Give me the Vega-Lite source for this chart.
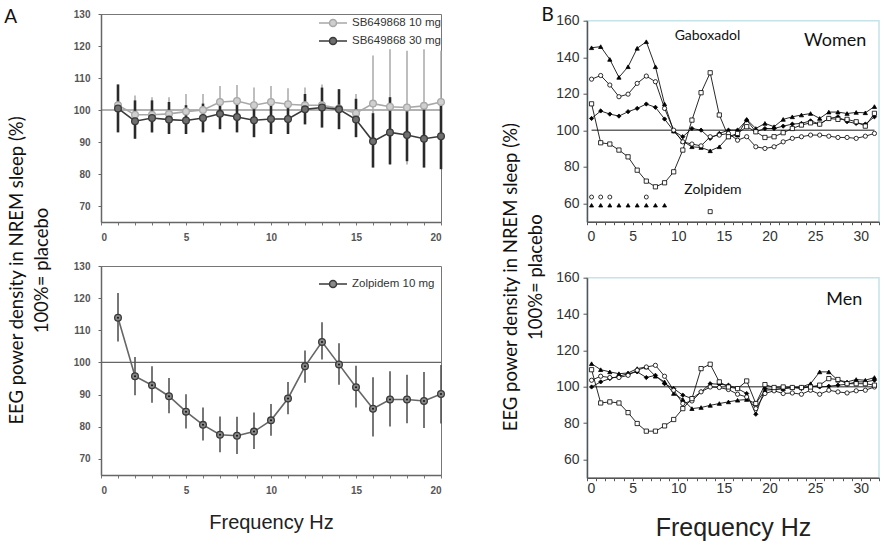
{
"$schema": "https://vega.github.io/schema/vega-lite/v6.json",
"padding": {"left": 4, "top": 6, "right": 0, "bottom": 0},
"background": "white",
"config": {"view": {"stroke": null}, "axis": {"grid": false}, "title": {"font": "Lato", "fontWeight": "normal", "color": "#111"}},
"datasets": {
"sb": [
{"f":1,"dose":"SB649868 10 mg","m":101.5,"lo":95.5,"hi":107.5},{"f":2,"dose":"SB649868 10 mg","m":98.5,"lo":92.5,"hi":104.5},{"f":3,"dose":"SB649868 10 mg","m":98.5,"lo":93,"hi":104},{"f":4,"dose":"SB649868 10 mg","m":98.8,"lo":93.6,"hi":104},{"f":5,"dose":"SB649868 10 mg","m":99.5,"lo":94,"hi":105},{"f":6,"dose":"SB649868 10 mg","m":100,"lo":95,"hi":105},{"f":7,"dose":"SB649868 10 mg","m":102.5,"lo":97.5,"hi":107.5},{"f":8,"dose":"SB649868 10 mg","m":102.8,"lo":97.8,"hi":107.8},{"f":9,"dose":"SB649868 10 mg","m":101.5,"lo":96,"hi":107},{"f":10,"dose":"SB649868 10 mg","m":102.5,"lo":97.5,"hi":107.5},{"f":11,"dose":"SB649868 10 mg","m":101.8,"lo":96.8,"hi":106.8},{"f":12,"dose":"SB649868 10 mg","m":101.5,"lo":96,"hi":107},{"f":13,"dose":"SB649868 10 mg","m":101.5,"lo":95,"hi":108},{"f":14,"dose":"SB649868 10 mg","m":100.5,"lo":94.5,"hi":106.5},{"f":15,"dose":"SB649868 10 mg","m":99,"lo":93,"hi":105},{"f":16,"dose":"SB649868 10 mg","m":102,"lo":87,"hi":117},{"f":17,"dose":"SB649868 10 mg","m":101,"lo":83,"hi":119},{"f":18,"dose":"SB649868 10 mg","m":100.8,"lo":83,"hi":118.5},{"f":19,"dose":"SB649868 10 mg","m":101.3,"lo":83.6,"hi":119},{"f":20,"dose":"SB649868 10 mg","m":102.5,"lo":86.5,"hi":118.5},
{"f":1,"dose":"SB649868 30 mg","m":100.5,"lo":93,"hi":108},{"f":2,"dose":"SB649868 30 mg","m":96.5,"lo":91,"hi":103},{"f":3,"dose":"SB649868 30 mg","m":97.5,"lo":93,"hi":103},{"f":4,"dose":"SB649868 30 mg","m":97,"lo":92.5,"hi":102.5},{"f":5,"dose":"SB649868 30 mg","m":96.7,"lo":92.5,"hi":101.5},{"f":6,"dose":"SB649868 30 mg","m":97.5,"lo":93,"hi":102},{"f":7,"dose":"SB649868 30 mg","m":98.8,"lo":94,"hi":103.5},{"f":8,"dose":"SB649868 30 mg","m":97.8,"lo":93,"hi":102.5},{"f":9,"dose":"SB649868 30 mg","m":96.8,"lo":91.5,"hi":102},{"f":10,"dose":"SB649868 30 mg","m":97.2,"lo":92.5,"hi":102},{"f":11,"dose":"SB649868 30 mg","m":97.2,"lo":92.5,"hi":102},{"f":12,"dose":"SB649868 30 mg","m":100.2,"lo":95.5,"hi":105},{"f":13,"dose":"SB649868 30 mg","m":100.8,"lo":94.5,"hi":107},{"f":14,"dose":"SB649868 30 mg","m":100.2,"lo":94,"hi":106.5},{"f":15,"dose":"SB649868 30 mg","m":97,"lo":91.5,"hi":103.5},{"f":16,"dose":"SB649868 30 mg","m":90.2,"lo":82,"hi":99},{"f":17,"dose":"SB649868 30 mg","m":93,"lo":83,"hi":104},{"f":18,"dose":"SB649868 30 mg","m":92.2,"lo":84,"hi":101},{"f":19,"dose":"SB649868 30 mg","m":91,"lo":82,"hi":100.5},{"f":20,"dose":"SB649868 30 mg","m":91.8,"lo":81.5,"hi":102.5}
],
"zol": [
{"f":1,"drug":"Zolpidem 10 mg","m":113.9,"lo":106.5,"hi":121.6},{"f":2,"drug":"Zolpidem 10 mg","m":95.7,"lo":89.8,"hi":101.7},{"f":3,"drug":"Zolpidem 10 mg","m":92.9,"lo":87.5,"hi":98.8},{"f":4,"drug":"Zolpidem 10 mg","m":89.5,"lo":84.2,"hi":95.2},{"f":5,"drug":"Zolpidem 10 mg","m":84.7,"lo":79.5,"hi":90.1},{"f":6,"drug":"Zolpidem 10 mg","m":80.6,"lo":75.7,"hi":86},{"f":7,"drug":"Zolpidem 10 mg","m":77.5,"lo":72.1,"hi":83.2},{"f":8,"drug":"Zolpidem 10 mg","m":77.2,"lo":71.5,"hi":83.1},{"f":9,"drug":"Zolpidem 10 mg","m":78.5,"lo":73.1,"hi":84.4},{"f":10,"drug":"Zolpidem 10 mg","m":82,"lo":77.2,"hi":87.1},{"f":11,"drug":"Zolpidem 10 mg","m":88.8,"lo":83.9,"hi":93.9},{"f":12,"drug":"Zolpidem 10 mg","m":98.8,"lo":93.7,"hi":103.7},{"f":13,"drug":"Zolpidem 10 mg","m":106.4,"lo":100.9,"hi":112.5},{"f":14,"drug":"Zolpidem 10 mg","m":99.4,"lo":93.1,"hi":106},{"f":15,"drug":"Zolpidem 10 mg","m":92.3,"lo":86,"hi":99},{"f":16,"drug":"Zolpidem 10 mg","m":85.6,"lo":77,"hi":95.4},{"f":17,"drug":"Zolpidem 10 mg","m":88.5,"lo":80.1,"hi":97.3},{"f":18,"drug":"Zolpidem 10 mg","m":88.5,"lo":81.1,"hi":96.2},{"f":19,"drug":"Zolpidem 10 mg","m":88,"lo":79.6,"hi":97},{"f":20,"drug":"Zolpidem 10 mg","m":90.2,"lo":81,"hi":99.2}
],
"women": [
{"f":0.5,"s":"T","v":145.2},{"f":1.5,"s":"T","v":145.8},{"f":2.5,"s":"T","v":138.8},{"f":3.5,"s":"T","v":129},{"f":4.5,"s":"T","v":134.8},{"f":5.5,"s":"T","v":144.9},{"f":6.5,"s":"T","v":148.5},{"f":7.5,"s":"T","v":134.8},{"f":8.5,"s":"T","v":114.4},{"f":9.5,"s":"T","v":99.6},{"f":10.5,"s":"T","v":94},{"f":11.5,"s":"T","v":91},{"f":12.5,"s":"T","v":90.6},{"f":13.5,"s":"T","v":88.8},{"f":14.5,"s":"T","v":91},{"f":15.5,"s":"T","v":96.5},{"f":16.5,"s":"T","v":97.4},{"f":17.5,"s":"T","v":106},{"f":18.5,"s":"T","v":101},{"f":19.5,"s":"T","v":103.8},{"f":20.5,"s":"T","v":102},{"f":21.5,"s":"T","v":106},{"f":22.5,"s":"T","v":107.4},{"f":23.5,"s":"T","v":108.4},{"f":24.5,"s":"T","v":109.2},{"f":25.5,"s":"T","v":106.5},{"f":26.5,"s":"T","v":110},{"f":27.5,"s":"T","v":110},{"f":28.5,"s":"T","v":109.2},{"f":29.5,"s":"T","v":109.8},{"f":30.5,"s":"T","v":109.6},{"f":31.5,"s":"T","v":113},
{"f":0.5,"s":"D","v":106.5},{"f":1.5,"s":"D","v":110.6},{"f":2.5,"s":"D","v":108.9},{"f":3.5,"s":"D","v":107.8},{"f":4.5,"s":"D","v":110.2},{"f":5.5,"s":"D","v":112},{"f":6.5,"s":"D","v":114.4},{"f":7.5,"s":"D","v":112.6},{"f":8.5,"s":"D","v":106.2},{"f":9.5,"s":"D","v":99.6},{"f":10.5,"s":"D","v":96.5},{"f":11.5,"s":"D","v":101},{"f":12.5,"s":"D","v":100.1},{"f":13.5,"s":"D","v":95.6},{"f":14.5,"s":"D","v":98.3},{"f":15.5,"s":"D","v":100.1},{"f":16.5,"s":"D","v":100.1},{"f":17.5,"s":"D","v":105.6},{"f":18.5,"s":"D","v":99.2},{"f":19.5,"s":"D","v":101},{"f":20.5,"s":"D","v":101},{"f":21.5,"s":"D","v":102.3},{"f":22.5,"s":"D","v":103.4},{"f":23.5,"s":"D","v":103.8},{"f":24.5,"s":"D","v":105.2},{"f":25.5,"s":"D","v":103.4},{"f":26.5,"s":"D","v":106.5},{"f":27.5,"s":"D","v":107.4},{"f":28.5,"s":"D","v":104.7},{"f":29.5,"s":"D","v":103.8},{"f":30.5,"s":"D","v":103.4},{"f":31.5,"s":"D","v":107.4},
{"f":0.5,"s":"C","v":128},{"f":1.5,"s":"C","v":130},{"f":2.5,"s":"C","v":124.8},{"f":3.5,"s":"C","v":118.4},{"f":4.5,"s":"C","v":119.8},{"f":5.5,"s":"C","v":125.7},{"f":6.5,"s":"C","v":129.7},{"f":7.5,"s":"C","v":126.6},{"f":8.5,"s":"C","v":112},{"f":9.5,"s":"C","v":100.1},{"f":10.5,"s":"C","v":93.7},{"f":11.5,"s":"C","v":92.5},{"f":12.5,"s":"C","v":91.5},{"f":13.5,"s":"C","v":96.5},{"f":14.5,"s":"C","v":97.4},{"f":15.5,"s":"C","v":98.3},{"f":16.5,"s":"C","v":94.6},{"f":17.5,"s":"C","v":96.5},{"f":18.5,"s":"C","v":91},{"f":19.5,"s":"C","v":90.1},{"f":20.5,"s":"C","v":91},{"f":21.5,"s":"C","v":93.7},{"f":22.5,"s":"C","v":95.6},{"f":23.5,"s":"C","v":96.5},{"f":24.5,"s":"C","v":97.4},{"f":25.5,"s":"C","v":97.4},{"f":26.5,"s":"C","v":96.8},{"f":27.5,"s":"C","v":96.1},{"f":28.5,"s":"C","v":96.1},{"f":29.5,"s":"C","v":95.6},{"f":30.5,"s":"C","v":96.8},{"f":31.5,"s":"C","v":98.3},
{"f":0.5,"s":"S","v":114.5},{"f":1.5,"s":"S","v":93.2},{"f":2.5,"s":"S","v":92.5},{"f":3.5,"s":"S","v":89.2},{"f":4.5,"s":"S","v":85.5},{"f":5.5,"s":"S","v":78.2},{"f":6.5,"s":"S","v":72.2},{"f":7.5,"s":"S","v":69.1},{"f":8.5,"s":"S","v":71.3},{"f":9.5,"s":"S","v":77.3},{"f":10.5,"s":"S","v":89.2},{"f":11.5,"s":"S","v":105.6},{"f":12.5,"s":"S","v":120.6},{"f":13.5,"s":"S","v":131.5},{"f":14.5,"s":"S","v":108.4},{"f":15.5,"s":"S","v":96.5},{"f":16.5,"s":"S","v":98.3},{"f":17.5,"s":"S","v":102},{"f":18.5,"s":"S","v":99.2},{"f":19.5,"s":"S","v":96.1},{"f":20.5,"s":"S","v":96.5},{"f":21.5,"s":"S","v":98.7},{"f":22.5,"s":"S","v":101},{"f":23.5,"s":"S","v":102.9},{"f":24.5,"s":"S","v":104.1},{"f":25.5,"s":"S","v":103.4},{"f":26.5,"s":"S","v":106.5},{"f":27.5,"s":"S","v":106},{"f":28.5,"s":"S","v":106},{"f":29.5,"s":"S","v":104.7},{"f":30.5,"s":"S","v":102.3},{"f":31.5,"s":"S","v":109.3}
],
"sigw": [
{"f":0.5,"s":"C","v":63.5},{"f":1.5,"s":"C","v":63.5},{"f":2.5,"s":"C","v":63.5},{"f":6.5,"s":"C","v":63.5},
{"f":0.5,"s":"T","v":59},{"f":1.5,"s":"T","v":59},{"f":2.5,"s":"T","v":59},{"f":3.5,"s":"T","v":59},{"f":4.5,"s":"T","v":59},{"f":5.5,"s":"T","v":59},{"f":6.5,"s":"T","v":59},{"f":7.5,"s":"T","v":59},{"f":8.5,"s":"T","v":59},
{"f":13.5,"s":"S","v":55.5}
],
"men": [
{"f":0.5,"s":"T","v":112.7},{"f":1.5,"s":"T","v":109.4},{"f":2.5,"s":"T","v":108.2},{"f":3.5,"s":"T","v":107.2},{"f":4.5,"s":"T","v":107.6},{"f":5.5,"s":"T","v":110},{"f":6.5,"s":"T","v":110.9},{"f":7.5,"s":"T","v":105.8},{"f":8.5,"s":"T","v":102.7},{"f":9.5,"s":"T","v":96.3},{"f":10.5,"s":"T","v":93},{"f":11.5,"s":"T","v":88},{"f":12.5,"s":"T","v":88.6},{"f":13.5,"s":"T","v":89.8},{"f":14.5,"s":"T","v":90.8},{"f":15.5,"s":"T","v":91.7},{"f":16.5,"s":"T","v":92.6},{"f":17.5,"s":"T","v":93},{"f":18.5,"s":"T","v":90.8},{"f":19.5,"s":"T","v":98.1},{"f":20.5,"s":"T","v":98.5},{"f":21.5,"s":"T","v":99},{"f":22.5,"s":"T","v":99.6},{"f":23.5,"s":"T","v":99.9},{"f":24.5,"s":"T","v":101.7},{"f":25.5,"s":"T","v":108.2},{"f":26.5,"s":"T","v":108.2},{"f":27.5,"s":"T","v":103.6},{"f":28.5,"s":"T","v":102.7},{"f":29.5,"s":"T","v":104},{"f":30.5,"s":"T","v":103.6},{"f":31.5,"s":"T","v":105.1},
{"f":0.5,"s":"D","v":99.9},{"f":1.5,"s":"D","v":102.7},{"f":2.5,"s":"D","v":104.5},{"f":3.5,"s":"D","v":105.8},{"f":4.5,"s":"D","v":107.2},{"f":5.5,"s":"D","v":108.2},{"f":6.5,"s":"D","v":105.1},{"f":7.5,"s":"D","v":106.3},{"f":8.5,"s":"D","v":101.7},{"f":9.5,"s":"D","v":99},{"f":10.5,"s":"D","v":95.4},{"f":11.5,"s":"D","v":93.5},{"f":12.5,"s":"D","v":97.2},{"f":13.5,"s":"D","v":101.7},{"f":14.5,"s":"D","v":101.4},{"f":15.5,"s":"D","v":100.9},{"f":16.5,"s":"D","v":99},{"f":17.5,"s":"D","v":96.3},{"f":18.5,"s":"D","v":84.9},{"f":19.5,"s":"D","v":99},{"f":20.5,"s":"D","v":98.5},{"f":21.5,"s":"D","v":99},{"f":22.5,"s":"D","v":99.6},{"f":23.5,"s":"D","v":99},{"f":24.5,"s":"D","v":100.3},{"f":25.5,"s":"D","v":99.9},{"f":26.5,"s":"D","v":100.3},{"f":27.5,"s":"D","v":100.9},{"f":28.5,"s":"D","v":101.4},{"f":29.5,"s":"D","v":102.7},{"f":30.5,"s":"D","v":102.7},{"f":31.5,"s":"D","v":103.6},
{"f":0.5,"s":"C","v":103.6},{"f":1.5,"s":"C","v":105.8},{"f":2.5,"s":"C","v":105.1},{"f":3.5,"s":"C","v":105.1},{"f":4.5,"s":"C","v":106.3},{"f":5.5,"s":"C","v":109.1},{"f":6.5,"s":"C","v":110.9},{"f":7.5,"s":"C","v":111.8},{"f":8.5,"s":"C","v":105.8},{"f":9.5,"s":"C","v":98.1},{"f":10.5,"s":"C","v":90.8},{"f":11.5,"s":"C","v":92.2},{"f":12.5,"s":"C","v":97.2},{"f":13.5,"s":"C","v":99.9},{"f":14.5,"s":"C","v":99.6},{"f":15.5,"s":"C","v":98.5},{"f":16.5,"s":"C","v":95.9},{"f":17.5,"s":"C","v":94.4},{"f":18.5,"s":"C","v":88},{"f":19.5,"s":"C","v":96.3},{"f":20.5,"s":"C","v":97.8},{"f":21.5,"s":"C","v":96.3},{"f":22.5,"s":"C","v":96.6},{"f":23.5,"s":"C","v":95.9},{"f":24.5,"s":"C","v":98.1},{"f":25.5,"s":"C","v":95.9},{"f":26.5,"s":"C","v":98.1},{"f":27.5,"s":"C","v":97.2},{"f":28.5,"s":"C","v":96.6},{"f":29.5,"s":"C","v":97.8},{"f":30.5,"s":"C","v":98.1},{"f":31.5,"s":"C","v":99.9},
{"f":0.5,"s":"S","v":109.4},{"f":1.5,"s":"S","v":91.1},{"f":2.5,"s":"S","v":91.7},{"f":3.5,"s":"S","v":91.1},{"f":4.5,"s":"S","v":85.8},{"f":5.5,"s":"S","v":79.8},{"f":6.5,"s":"S","v":75.6},{"f":7.5,"s":"S","v":75.6},{"f":8.5,"s":"S","v":78.5},{"f":9.5,"s":"S","v":82},{"f":10.5,"s":"S","v":88},{"f":11.5,"s":"S","v":93.5},{"f":12.5,"s":"S","v":110},{"f":13.5,"s":"S","v":112.4},{"f":14.5,"s":"S","v":102.7},{"f":15.5,"s":"S","v":99.9},{"f":16.5,"s":"S","v":99},{"f":17.5,"s":"S","v":103.2},{"f":18.5,"s":"S","v":90.8},{"f":19.5,"s":"S","v":101.2},{"f":20.5,"s":"S","v":99.6},{"f":21.5,"s":"S","v":99.9},{"f":22.5,"s":"S","v":99.6},{"f":23.5,"s":"S","v":99.6},{"f":24.5,"s":"S","v":99.9},{"f":25.5,"s":"S","v":100.9},{"f":26.5,"s":"S","v":104.5},{"f":27.5,"s":"S","v":104},{"f":28.5,"s":"S","v":101.7},{"f":29.5,"s":"S","v":101.7},{"f":30.5,"s":"S","v":101.7},{"f":31.5,"s":"S","v":100.9}
]
},
"spacing": 54,
"resolve": {"scale": {"fill": "independent", "stroke": "independent", "shape": "independent"}, "legend": {"fill": "independent", "stroke": "independent", "shape": "independent"}},
"hconcat": [
{
"title": {"text": "A", "orient": "top", "anchor": "start", "fontSize": 19, "offset": -18, "dx": -4},
"resolve": {"scale": {"fill": "independent", "stroke": "independent", "shape": "independent"}, "legend": {"fill": "independent", "stroke": "independent", "shape": "independent"}},
"vconcat": [
{
"title": {"text": ["EEG power density in NREM sleep (%)", "100%= placebo"], "orient": "left", "anchor": "middle", "fontSize": 18.5, "lineHeight": 25, "offset": 21},
"spacing": 44,
"bounds": "flush",
"resolve": {"scale": {"fill": "independent", "stroke": "independent", "shape": "independent"}, "legend": {"fill": "independent", "stroke": "independent", "shape": "independent"}},
"vconcat": [
{
"width": 340, "height": 208,
"view": {"stroke": "#777", "strokeWidth": 1},
"layer": [
{"data": {"values": [{}]}, "mark": {"type": "rule", "color": "#666", "strokeWidth": 1.2},
 "encoding": {"y": {"datum": 100, "type": "quantitative", "scale": {"domain": [65, 130], "nice": false, "zero": false},
   "axis": {"orient": "left", "values": [70, 80, 90, 100, 110, 120, 130], "title": null, "domainColor": "#666", "domainWidth": 1.5, "tickColor": "#666", "tickSize": 3, "labelFont": "Liberation Sans", "labelFontSize": 10, "labelFontWeight": "bold", "labelColor": "#555", "labelPadding": 8}}}},
{"data": {"name": "sb"}, "transform": [{"filter": {"field": "dose", "equal": "SB649868 10 mg"}}], "mark": {"type": "rule", "color": "#a8a8a8", "strokeWidth": 1.5},
 "encoding": {"x": {"field": "f", "type": "quantitative", "scale": {"domain": [0, 20], "nice": false, "zero": false},
   "axis": {"orient": "bottom", "values": [0,1,2,3,4,5,6,7,8,9,10,11,12,13,14,15,16,17,18,19,20], "labels": false, "title": null, "domainColor": "#666", "domainWidth": 1.5, "tickColor": "#777", "tickSize": 3}},
  "y": {"field": "lo", "type": "quantitative", "scale": {"domain": [65, 130], "nice": false, "zero": false}, "axis": null},
  "y2": {"field": "hi"}}},
{"data": {"name": "sb"}, "transform": [{"filter": {"field": "dose", "equal": "SB649868 30 mg"}}], "mark": {"type": "rule", "color": "#2a2a2a", "strokeWidth": 2.6},
 "encoding": {"x": {"field": "f", "type": "quantitative", "scale": {"domain": [0, 20], "nice": false, "zero": false}, "axis": null},
  "y": {"field": "lo", "type": "quantitative", "scale": {"domain": [65, 130], "nice": false, "zero": false}, "axis": null},
  "y2": {"field": "hi"}}},
{"data": {"name": "sb"}, "mark": {"type": "line", "strokeWidth": 1.6},
 "encoding": {"x": {"field": "f", "type": "quantitative", "scale": {"domain": [0, 20], "nice": false, "zero": false},
   "axis": {"orient": "bottom", "values": [0, 5, 10, 15, 20], "title": null, "domain": false, "ticks": false, "labelFont": "Liberation Sans", "labelFontSize": 10, "labelFontWeight": "bold", "labelColor": "#555", "labelPadding": 10}},
  "y": {"field": "m", "type": "quantitative", "scale": {"domain": [65, 130], "nice": false, "zero": false}, "axis": null},
  "stroke": {"field": "dose", "type": "nominal", "scale": {"domain": ["SB649868 10 mg", "SB649868 30 mg"], "range": ["#a8a8a8", "#3a3a3a"]},
   "legend": {"orient": "none", "legendX": 224, "legendY": 1, "title": null, "padding": 0, "labelFont": "Liberation Sans", "labelFontSize": 11.5, "labelColor": "#333", "symbolType": "M-2,0L-0.5,0M0.5,0L2,0M0.5,0A0.5,0.5,0,1,1,-0.5,0A0.5,0.5,0,1,1,0.5,0Z", "symbolSize": 196, "symbolStrokeWidth": 1.5, "rowPadding": 3, "labelOffset": 11}}}},
{"data": {"name": "sb"}, "mark": {"type": "point", "filled": true, "size": 45, "strokeWidth": 1.3, "opacity": 1},
 "encoding": {"x": {"field": "f", "type": "quantitative", "scale": {"domain": [0, 20], "nice": false, "zero": false}, "axis": null},
  "y": {"field": "m", "type": "quantitative", "scale": {"domain": [65, 130], "nice": false, "zero": false}, "axis": null},
  "fill": {"field": "dose", "type": "nominal", "scale": {"domain": ["SB649868 10 mg", "SB649868 30 mg"], "range": ["#cfcfcf", "#6f6f6f"]},
   "legend": {"orient": "none", "legendX": 224, "legendY": 1, "title": null, "padding": 0, "labelFont": "Liberation Sans", "labelFontSize": 11.5, "labelColor": "#333", "symbolType": "M-2,0L-0.5,0M0.5,0L2,0M0.5,0A0.5,0.5,0,1,1,-0.5,0A0.5,0.5,0,1,1,0.5,0Z", "symbolSize": 196, "symbolStrokeWidth": 1.5, "rowPadding": 3, "labelOffset": 11}},
  "stroke": {"field": "dose", "type": "nominal",
   "legend": {"orient": "none", "legendX": 224, "legendY": 1, "title": null, "padding": 0, "labelFont": "Liberation Sans", "labelFontSize": 11.5, "labelColor": "#333", "symbolType": "M-2,0L-0.5,0M0.5,0L2,0M0.5,0A0.5,0.5,0,1,1,-0.5,0A0.5,0.5,0,1,1,0.5,0Z", "symbolSize": 196, "symbolStrokeWidth": 1.5, "rowPadding": 3, "labelOffset": 11}}}}
],
"resolve": {"axis": {"x": "independent", "y": "independent"}}
},
{
"width": 340, "height": 209,
"view": {"stroke": "#777", "strokeWidth": 1},
"layer": [
{"data": {"values": [{}]}, "mark": {"type": "rule", "color": "#666", "strokeWidth": 1.2},
 "encoding": {"y": {"datum": 100, "type": "quantitative", "scale": {"domain": [65, 130], "nice": false, "zero": false},
   "axis": {"orient": "left", "values": [70, 80, 90, 100, 110, 120, 130], "title": null, "domainColor": "#666", "domainWidth": 1.5, "tickColor": "#666", "tickSize": 3, "labelFont": "Liberation Sans", "labelFontSize": 10, "labelFontWeight": "bold", "labelColor": "#555", "labelPadding": 8}}}},
{"data": {"name": "zol"}, "mark": {"type": "rule", "color": "#555", "strokeWidth": 1.6},
 "encoding": {"x": {"field": "f", "type": "quantitative", "scale": {"domain": [0, 20], "nice": false, "zero": false},
   "axis": {"orient": "bottom", "values": [0,1,2,3,4,5,6,7,8,9,10,11,12,13,14,15,16,17,18,19,20], "labels": false, "title": null, "domainColor": "#666", "domainWidth": 1.5, "tickColor": "#777", "tickSize": 3}},
  "y": {"field": "lo", "type": "quantitative", "scale": {"domain": [65, 130], "nice": false, "zero": false}, "axis": null},
  "y2": {"field": "hi"}}},
{"data": {"name": "zol"}, "mark": {"type": "line", "strokeWidth": 1.6, "color": "#666"},
 "encoding": {"x": {"field": "f", "type": "quantitative", "scale": {"domain": [0, 20], "nice": false, "zero": false},
   "axis": {"orient": "bottom", "values": [0, 5, 10, 15, 20], "title": "Frequency Hz", "titleFont": "Liberation Sans", "titleFontSize": 20, "titleFontWeight": "normal", "titleColor": "#222", "titleY": 47, "titleBaseline": "middle", "domain": false, "ticks": false, "labelFont": "Liberation Sans", "labelFontSize": 10, "labelFontWeight": "bold", "labelColor": "#555", "labelPadding": 10}},
  "y": {"field": "m", "type": "quantitative", "scale": {"domain": [65, 130], "nice": false, "zero": false}, "axis": null}}},
{"data": {"name": "zol"}, "mark": {"type": "point", "filled": true, "size": 45, "strokeWidth": 1.3, "opacity": 1},
 "encoding": {"x": {"field": "f", "type": "quantitative", "scale": {"domain": [0, 20], "nice": false, "zero": false}, "axis": null},
  "y": {"field": "m", "type": "quantitative", "scale": {"domain": [65, 130], "nice": false, "zero": false}, "axis": null},
  "fill": {"field": "drug", "type": "nominal", "scale": {"domain": ["Zolpidem 10 mg"], "range": ["#8a8a8a"]},
   "legend": {"orient": "none", "legendX": 224, "legendY": 10, "title": null, "padding": 0, "labelFont": "Liberation Sans", "labelFontSize": 11.5, "labelColor": "#333", "symbolType": "M-2,0L-0.5,0M0.5,0L2,0M0.5,0A0.5,0.5,0,1,1,-0.5,0A0.5,0.5,0,1,1,0.5,0Z", "symbolSize": 196, "symbolStrokeWidth": 1.5, "labelOffset": 11}},
  "stroke": {"field": "drug", "type": "nominal", "scale": {"domain": ["Zolpidem 10 mg"], "range": ["#3a3a3a"]},
   "legend": {"orient": "none", "legendX": 224, "legendY": 10, "title": null, "padding": 0, "labelFont": "Liberation Sans", "labelFontSize": 11.5, "labelColor": "#333", "symbolType": "M-2,0L-0.5,0M0.5,0L2,0M0.5,0A0.5,0.5,0,1,1,-0.5,0A0.5,0.5,0,1,1,0.5,0Z", "symbolSize": 196, "symbolStrokeWidth": 1.5, "labelOffset": 11}}}},
{"data": {"name": "zol"}, "mark": {"type": "point", "filled": true, "size": 4, "color": "#111", "opacity": 1},
 "encoding": {"x": {"field": "f", "type": "quantitative", "scale": {"domain": [0, 20], "nice": false, "zero": false}, "axis": null},
  "y": {"field": "m", "type": "quantitative", "scale": {"domain": [65, 130], "nice": false, "zero": false}, "axis": null}}}
],
"resolve": {"axis": {"x": "independent", "y": "independent"}}
}
]
}
]
},
{
"title": {"text": "B", "orient": "top", "anchor": "start", "fontSize": 19, "offset": -13.3, "dx": 39},
"spacing": 5.7,
"bounds": "flush",
"resolve": {"scale": {"fill": "independent", "stroke": "independent", "shape": "independent"}, "legend": {"fill": "independent", "stroke": "independent", "shape": "independent"}},
"vconcat": [
{"width": 292, "height": 1, "data": {"values": [{}]}, "mark": {"type": "point", "opacity": 0}},
{
"title": {"text": ["EEG power density in NREM sleep (%)", "100%= placebo"], "orient": "left", "anchor": "middle", "fontSize": 18.5, "lineHeight": 25, "offset": 9},
"spacing": 56,
"bounds": "flush",
"resolve": {"scale": {"fill": "independent", "stroke": "independent", "shape": "independent"}, "legend": {"fill": "independent", "stroke": "independent", "shape": "independent"}},
"vconcat": [
{
"width": 292, "height": 201,
"view": {"stroke": "#c4e4e8", "strokeWidth": 1.5},
"layer": [
{"data": {"values": [{}]}, "mark": {"type": "rule", "color": "#666", "strokeWidth": 1.5},
 "encoding": {"x": {"datum": 0.5, "type": "quantitative", "scale": {"domain": [0, 32], "nice": false, "zero": false}, "axis": null}, "x2": {"datum": 31.5},
  "y": {"datum": 100, "type": "quantitative", "scale": {"domain": [50, 160], "nice": false, "zero": false},
   "axis": {"orient": "left", "values": [60, 80, 100, 120, 140, 160], "title": null, "domainColor": "#555", "domainWidth": 1.5, "tickColor": "#555", "tickSize": 4, "labelFont": "Liberation Sans", "labelFontSize": 14, "labelColor": "#333", "labelPadding": 4}}}},
{"data": {"name": "women"}, "mark": {"type": "line", "color": "#111", "strokeWidth": 0.9},
 "encoding": {"x": {"field": "f", "type": "quantitative", "scale": {"domain": [0, 32], "nice": false, "zero": false},
   "axis": {"orient": "bottom", "values": [0,1,2,3,4,5,6,7,8,9,10,11,12,13,14,15,16,17,18,19,20,21,22,23,24,25,26,27,28,29,30,31,32], "labels": false, "title": null, "domainColor": "#555", "domainWidth": 1.5, "tickColor": "#555", "tickSize": 3}},
  "y": {"field": "v", "type": "quantitative", "scale": {"domain": [50, 160], "nice": false, "zero": false}, "axis": null},
  "detail": {"field": "s", "type": "nominal"}}},
{"data": {"name": "women"}, "mark": {"type": "point", "filled": true, "size": 18, "stroke": "#000", "strokeWidth": 0.8, "opacity": 1},
 "encoding": {"x": {"field": "f", "type": "quantitative", "scale": {"domain": [0, 32], "nice": false, "zero": false},
   "axis": {"orient": "bottom", "values": [0, 5, 10, 15, 20, 25, 30], "title": null, "domain": false, "ticks": false, "labelFont": "Liberation Sans", "labelFontSize": 14, "labelColor": "#333", "labelPadding": 8}},
  "y": {"field": "v", "type": "quantitative", "scale": {"domain": [50, 160], "nice": false, "zero": false}, "axis": null},
  "shape": {"field": "s", "type": "nominal", "scale": {"domain": ["T", "D", "C", "S"], "range": ["triangle-up", "diamond", "circle", "square"]}, "legend": null},
  "fill": {"field": "s", "type": "nominal", "scale": {"domain": ["T", "D", "C", "S"], "range": ["#000", "#000", "#fff", "#fff"]}, "legend": null}}},
{"data": {"name": "sigw"}, "mark": {"type": "point", "filled": true, "size": 16, "stroke": "#000", "strokeWidth": 0.8, "opacity": 1},
 "encoding": {"x": {"field": "f", "type": "quantitative", "scale": {"domain": [0, 32], "nice": false, "zero": false}, "axis": null},
  "y": {"field": "v", "type": "quantitative", "scale": {"domain": [50, 160], "nice": false, "zero": false}, "axis": null},
  "shape": {"field": "s", "type": "nominal", "scale": {"domain": ["T", "D", "C", "S"], "range": ["triangle-up", "diamond", "circle", "square"]}, "legend": null},
  "fill": {"field": "s", "type": "nominal", "scale": {"domain": ["T", "D", "C", "S"], "range": ["#000", "#000", "#fff", "#fff"]}, "legend": null}}},
{"data": {"values": [{"f": 13.2, "v": 151.6, "t": "Gaboxadol"}, {"f": 13.8, "v": 67.3, "t": "Zolpidem"}]},
 "mark": {"type": "text", "font": "Lato", "fontSize": 14, "color": "#111", "align": "center", "baseline": "middle"},
 "encoding": {"x": {"field": "f", "type": "quantitative", "scale": {"domain": [0, 32], "nice": false, "zero": false}, "axis": null},
  "y": {"field": "v", "type": "quantitative", "scale": {"domain": [50, 160], "nice": false, "zero": false}, "axis": null},
  "text": {"field": "t"}}},
{"data": {"values": [{"f": 27.2, "v": 149, "t": "Women"}]},
 "mark": {"type": "text", "font": "Lato", "fontSize": 18, "color": "#111", "align": "center", "baseline": "middle"},
 "encoding": {"x": {"field": "f", "type": "quantitative", "scale": {"domain": [0, 32], "nice": false, "zero": false}, "axis": null},
  "y": {"field": "v", "type": "quantitative", "scale": {"domain": [50, 160], "nice": false, "zero": false}, "axis": null},
  "text": {"field": "t"}}}
],
"resolve": {"axis": {"x": "independent", "y": "independent"}}
},
{
"width": 292, "height": 200,
"view": {"stroke": "#c4e4e8", "strokeWidth": 1.5},
"layer": [
{"data": {"values": [{}]}, "mark": {"type": "rule", "color": "#666", "strokeWidth": 1.5},
 "encoding": {"x": {"datum": 0.5, "type": "quantitative", "scale": {"domain": [0, 32], "nice": false, "zero": false}, "axis": null}, "x2": {"datum": 31.5},
  "y": {"datum": 100, "type": "quantitative", "scale": {"domain": [50, 160], "nice": false, "zero": false},
   "axis": {"orient": "left", "values": [60, 80, 100, 120, 140, 160], "title": null, "domainColor": "#555", "domainWidth": 1.5, "tickColor": "#555", "tickSize": 4, "labelFont": "Liberation Sans", "labelFontSize": 14, "labelColor": "#333", "labelPadding": 4}}}},
{"data": {"name": "men"}, "mark": {"type": "line", "color": "#111", "strokeWidth": 0.9},
 "encoding": {"x": {"field": "f", "type": "quantitative", "scale": {"domain": [0, 32], "nice": false, "zero": false},
   "axis": {"orient": "bottom", "values": [0,1,2,3,4,5,6,7,8,9,10,11,12,13,14,15,16,17,18,19,20,21,22,23,24,25,26,27,28,29,30,31,32], "labels": false, "title": null, "domainColor": "#555", "domainWidth": 1.5, "tickColor": "#555", "tickSize": 3}},
  "y": {"field": "v", "type": "quantitative", "scale": {"domain": [50, 160], "nice": false, "zero": false}, "axis": null},
  "detail": {"field": "s", "type": "nominal"}}},
{"data": {"name": "men"}, "mark": {"type": "point", "filled": true, "size": 18, "stroke": "#000", "strokeWidth": 0.8, "opacity": 1},
 "encoding": {"x": {"field": "f", "type": "quantitative", "scale": {"domain": [0, 32], "nice": false, "zero": false},
   "axis": {"orient": "bottom", "values": [0, 5, 10, 15, 20, 25, 30], "title": "Frequency Hz", "titleFont": "Liberation Sans", "titleFontSize": 25, "titleFontWeight": "normal", "titleColor": "#222", "titleY": 50, "titleBaseline": "middle", "domain": false, "ticks": false, "labelFont": "Liberation Sans", "labelFontSize": 14, "labelColor": "#333", "labelPadding": 4}},
  "y": {"field": "v", "type": "quantitative", "scale": {"domain": [50, 160], "nice": false, "zero": false}, "axis": null},
  "shape": {"field": "s", "type": "nominal", "scale": {"domain": ["T", "D", "C", "S"], "range": ["triangle-up", "diamond", "circle", "square"]}, "legend": null},
  "fill": {"field": "s", "type": "nominal", "scale": {"domain": ["T", "D", "C", "S"], "range": ["#000", "#000", "#fff", "#fff"]}, "legend": null}}},
{"data": {"values": [{"f": 28.2, "v": 147.5, "t": "Men"}]},
 "mark": {"type": "text", "font": "Lato", "fontSize": 18, "color": "#111", "align": "center", "baseline": "middle"},
 "encoding": {"x": {"field": "f", "type": "quantitative", "scale": {"domain": [0, 32], "nice": false, "zero": false}, "axis": null},
  "y": {"field": "v", "type": "quantitative", "scale": {"domain": [50, 160], "nice": false, "zero": false}, "axis": null},
  "text": {"field": "t"}}}
],
"resolve": {"axis": {"x": "independent", "y": "independent"}}
}
]
}
]
}
]
}
